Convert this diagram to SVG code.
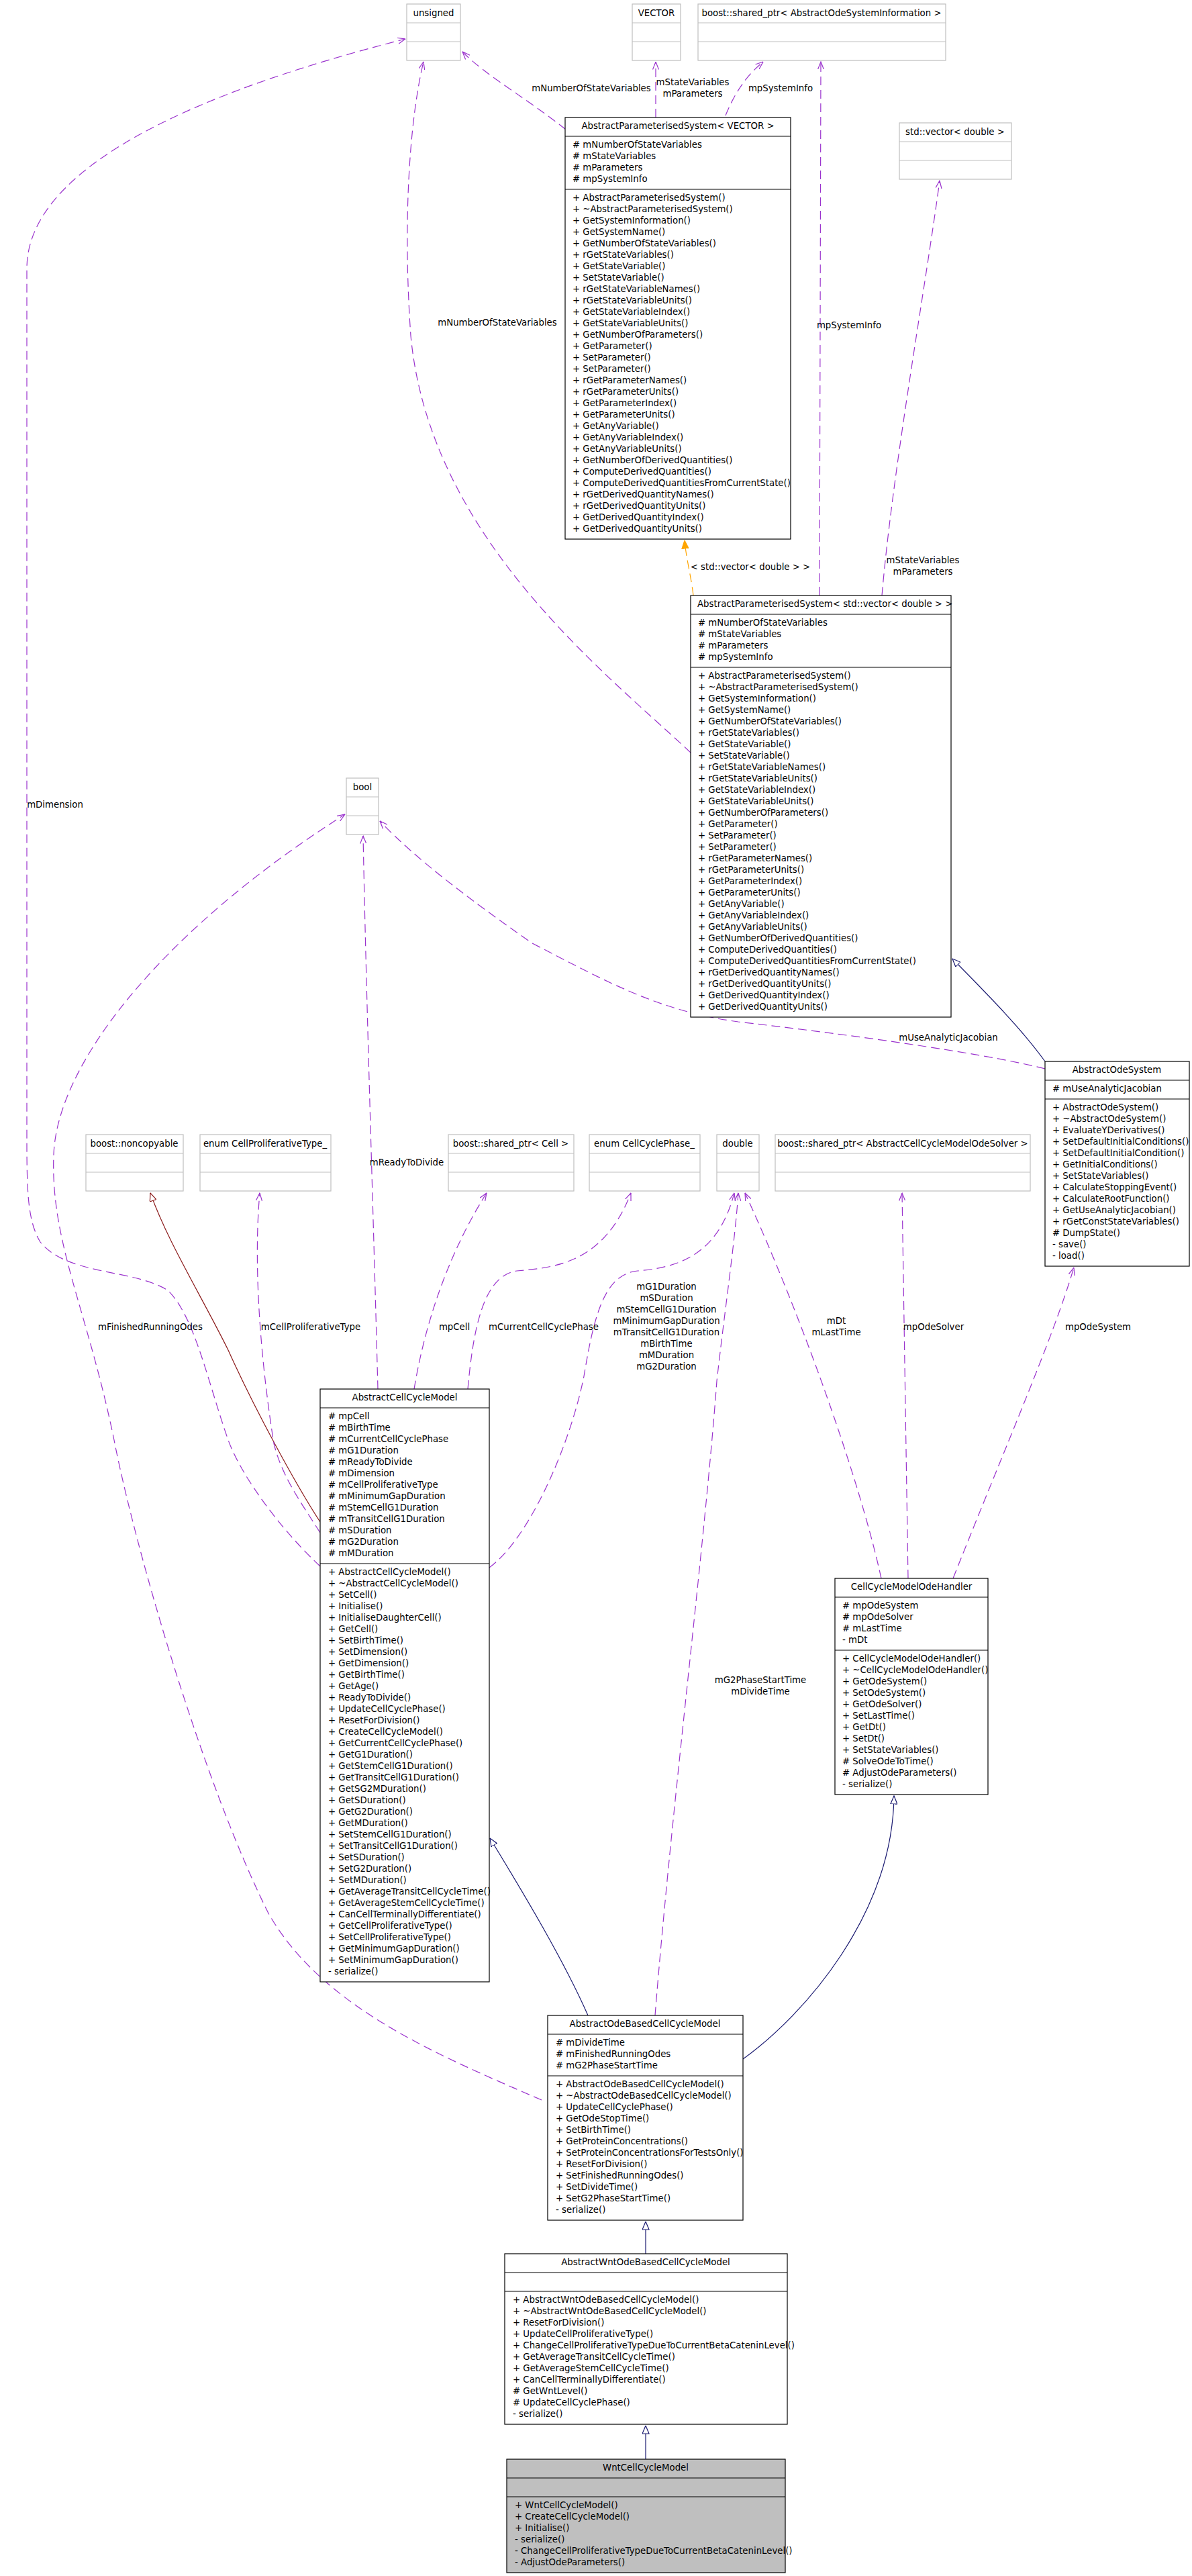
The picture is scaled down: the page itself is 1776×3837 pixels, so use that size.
<svg xmlns="http://www.w3.org/2000/svg" width="1776" height="3837" viewBox="0 0 1776 3837">
<style>
text{font-family:"DejaVu Sans","Liberation Sans",sans-serif;font-size:13.3px;fill:#000}
.t{text-anchor:middle}
.b{fill:#fff;stroke:#000;stroke-width:1.2}
.g{fill:#fff;stroke:#bfbfbf;stroke-width:1.2}
.gr{fill:#bfbfbf;stroke:#000;stroke-width:1.2}
.l{stroke:#000;stroke-width:1.2}
.lg{stroke:#bfbfbf;stroke-width:1.2}
.p{fill:none;stroke:#9a32cd;stroke-width:1.2;stroke-dasharray:13,7;marker-end:url(#ao)}
.u{fill:none;stroke:#191970;stroke-width:1.2;marker-end:url(#hb)}
.r{fill:none;stroke:#8b1a1a;stroke-width:1.2;marker-end:url(#hr)}
.o{fill:none;stroke:#ffa500;stroke-width:1.2;stroke-dasharray:13,7;marker-end:url(#fo)}
</style>
<defs>
<marker id="ao" viewBox="0 0 12 10" refX="11.5" refY="5" markerWidth="12" markerHeight="10" markerUnits="userSpaceOnUse" orient="auto"><path d="M0,0.5 L11.5,5 L0,9.5" fill="none" stroke="#9a32cd" stroke-width="1.2"/></marker>
<marker id="hb" viewBox="0 0 13 11" refX="12.5" refY="5.5" markerWidth="13" markerHeight="11" markerUnits="userSpaceOnUse" orient="auto"><path d="M0.5,0.5 L12.5,5.5 L0.5,10.5 Z" fill="#fff" stroke="#191970" stroke-width="1.2"/></marker>
<marker id="hr" viewBox="0 0 13 11" refX="12.5" refY="5.5" markerWidth="13" markerHeight="11" markerUnits="userSpaceOnUse" orient="auto"><path d="M0.5,0.5 L12.5,5.5 L0.5,10.5 Z" fill="#fff" stroke="#8b1a1a" stroke-width="1.2"/></marker>
<marker id="fo" viewBox="0 0 13 11" refX="12.5" refY="5.5" markerWidth="13" markerHeight="11" markerUnits="userSpaceOnUse" orient="auto"><path d="M0.5,0.5 L12.5,5.5 L0.5,10.5 Z" fill="#ffa500" stroke="#ffa500" stroke-width="1.2"/></marker>
</defs>

<g id="edges">
<path class="p" d="M843,193 C790,150 720,110 689,77"/>
<path class="p" d="M977,175 L977,92"/>
<path class="p" d="M1081,172 C1098,130 1118,108 1137,92"/>
<path class="p" d="M1221,887 L1223,92"/>
<path class="p" d="M1029,1121 C900,1000 640,800 612,500 C600,330 610,180 631,92"/>
<path class="p" d="M1314,887 C1330,700 1380,420 1400,269"/>
<path class="o" d="M1033,887 C1030,860 1022,830 1020,805"/>
<path class="p" d="M1557,1592 C1480,1572 1300,1545 1100,1522 C980,1506 900,1460 793,1405 C700,1340 620,1280 566,1223"/>
<path class="u" d="M1557,1581 C1520,1530 1470,1480 1419,1428"/>
<path class="p" d="M563,2069 C556,1800 546,1500 541,1245"/>
<path class="p" d="M807,3128 C650,3060 480,2990 400,2850 C300,2650 200,2300 170,2145 C130,1950 75,1850 80,1720 C85,1580 250,1380 514,1213"/>
<path class="p" d="M477,2333 C420,2280 360,2200 340,2145 C310,2060 290,1960 250,1922 C200,1890 100,1900 60,1850 C42,1820 40,1780 40,1700 L40,400 C40,220 400,110 604,58"/>
<path class="r" d="M477,2267 C440,2210 380,2100 340,2011 C300,1930 250,1850 224,1777"/>
<path class="p" d="M477,2283 C450,2240 420,2200 408,2150 C392,2050 376,1900 387,1777"/>
<path class="p" d="M617,2069 C630,1990 660,1880 725,1777"/>
<path class="p" d="M697,2069 C705,1980 720,1900 770,1893 C830,1888 900,1880 940,1777"/>
<path class="p" d="M729,2335 C790,2290 850,2150 870,2050 C885,1960 900,1898 950,1893 C1010,1888 1070,1870 1094,1777"/>
<path class="p" d="M976,3002 C1000,2700 1050,2300 1068,2057 C1080,1950 1095,1850 1100,1777"/>
<path class="p" d="M1313,2351 C1280,2200 1190,1950 1110,1777"/>
<path class="p" d="M1353,2351 L1344,1777"/>
<path class="p" d="M1420,2351 C1500,2150 1570,1990 1600,1888"/>
<path class="u" d="M1107,3067 C1200,3000 1330,2850 1332,2675"/>
<path class="u" d="M876,3002 C840,2920 780,2820 730,2738"/>
<path class="u" d="M962,3357 L962,3309"/>
<path class="u" d="M962,3663 L962,3613"/>
</g>

<g id="edge-labels" class="t">
<text x="881" y="136">mNumberOfStateVariables</text>
<text x="1032" y="127">mStateVariables</text>
<text x="1032" y="144">mParameters</text>
<text x="1163" y="136">mpSystemInfo</text>
<text x="741" y="485">mNumberOfStateVariables</text>
<text x="1265" y="489">mpSystemInfo</text>
<text x="1118" y="849">&lt; std::vector&lt; double &gt; &gt;</text>
<text x="1375" y="839">mStateVariables</text>
<text x="1375" y="856">mParameters</text>
<text x="82" y="1203">mDimension</text>
<text x="1413" y="1550">mUseAnalyticJacobian</text>
<text x="606" y="1736">mReadyToDivide</text>
<text x="224" y="1981">mFinishedRunningOdes</text>
<text x="463" y="1981">mCellProliferativeType</text>
<text x="677" y="1981">mpCell</text>
<text x="810" y="1981">mCurrentCellCyclePhase</text>
<text x="993" y="1921">mG1Duration</text>
<text x="993" y="1938">mSDuration</text>
<text x="993" y="1955">mStemCellG1Duration</text>
<text x="993" y="1972">mMinimumGapDuration</text>
<text x="993" y="1989">mTransitCellG1Duration</text>
<text x="993" y="2006">mBirthTime</text>
<text x="993" y="2023">mMDuration</text>
<text x="993" y="2040">mG2Duration</text>
<text x="1246" y="1972">mDt</text>
<text x="1246" y="1989">mLastTime</text>
<text x="1391" y="1981">mpOdeSolver</text>
<text x="1636" y="1981">mpOdeSystem</text>
<text x="1133" y="2507">mG2PhaseStartTime</text>
<text x="1133" y="2524">mDivideTime</text>
</g>

<g id="unsigned"><rect class="g" x="606" y="6" width="80" height="84"/><line class="lg" x1="606" y1="34" x2="686" y2="34"/><line class="lg" x1="606" y1="62" x2="686" y2="62"/><text class="t" x="646" y="24">unsigned</text></g>
<g id="VECTOR"><rect class="g" x="942" y="6" width="72" height="84"/><line class="lg" x1="942" y1="34" x2="1014" y2="34"/><line class="lg" x1="942" y1="62" x2="1014" y2="62"/><text class="t" x="978" y="24">VECTOR</text></g>
<g id="sp_AbstractOdeSystemInformation"><rect class="g" x="1040" y="6" width="369" height="84"/><line class="lg" x1="1040" y1="34" x2="1409" y2="34"/><line class="lg" x1="1040" y1="62" x2="1409" y2="62"/><text class="t" x="1224" y="24">boost::shared_ptr&lt; AbstractOdeSystemInformation &gt;</text></g>
<g id="std_vector_double"><rect class="g" x="1340" y="183" width="167" height="84"/><line class="lg" x1="1340" y1="211" x2="1507" y2="211"/><line class="lg" x1="1340" y1="239" x2="1507" y2="239"/><text class="t" x="1423" y="201">std::vector&lt; double &gt;</text></g>

<g id="APS_VECTOR"><rect class="b" x="842" y="175" width="336" height="628"/><line class="l" x1="842" y1="203" x2="1178" y2="203"/><line class="l" x1="842" y1="282" x2="1178" y2="282"/>
<text class="t" x="1010" y="192">AbstractParameterisedSystem&lt; VECTOR &gt;</text>
<text x="853" y="220"><tspan x="853">#  mNumberOfStateVariables</tspan><tspan x="853" dy="17">#  mStateVariables</tspan><tspan x="853" dy="17">#  mParameters</tspan><tspan x="853" dy="17">#  mpSystemInfo</tspan></text>
<text x="853" y="299"><tspan x="853">+ AbstractParameterisedSystem()</tspan><tspan x="853" dy="17">+ ~AbstractParameterisedSystem()</tspan><tspan x="853" dy="17">+ GetSystemInformation()</tspan><tspan x="853" dy="17">+ GetSystemName()</tspan><tspan x="853" dy="17">+ GetNumberOfStateVariables()</tspan><tspan x="853" dy="17">+ rGetStateVariables()</tspan><tspan x="853" dy="17">+ GetStateVariable()</tspan><tspan x="853" dy="17">+ SetStateVariable()</tspan><tspan x="853" dy="17">+ rGetStateVariableNames()</tspan><tspan x="853" dy="17">+ rGetStateVariableUnits()</tspan><tspan x="853" dy="17">+ GetStateVariableIndex()</tspan><tspan x="853" dy="17">+ GetStateVariableUnits()</tspan><tspan x="853" dy="17">+ GetNumberOfParameters()</tspan><tspan x="853" dy="17">+ GetParameter()</tspan><tspan x="853" dy="17">+ SetParameter()</tspan><tspan x="853" dy="17">+ SetParameter()</tspan><tspan x="853" dy="17">+ rGetParameterNames()</tspan><tspan x="853" dy="17">+ rGetParameterUnits()</tspan><tspan x="853" dy="17">+ GetParameterIndex()</tspan><tspan x="853" dy="17">+ GetParameterUnits()</tspan><tspan x="853" dy="17">+ GetAnyVariable()</tspan><tspan x="853" dy="17">+ GetAnyVariableIndex()</tspan><tspan x="853" dy="17">+ GetAnyVariableUnits()</tspan><tspan x="853" dy="17">+ GetNumberOfDerivedQuantities()</tspan><tspan x="853" dy="17">+ ComputeDerivedQuantities()</tspan><tspan x="853" dy="17">+ ComputeDerivedQuantitiesFromCurrentState()</tspan><tspan x="853" dy="17">+ rGetDerivedQuantityNames()</tspan><tspan x="853" dy="17">+ rGetDerivedQuantityUnits()</tspan><tspan x="853" dy="17">+ GetDerivedQuantityIndex()</tspan><tspan x="853" dy="17">+ GetDerivedQuantityUnits()</tspan></text></g>

<g id="APS_std_vector"><rect class="b" x="1029" y="887" width="388" height="628"/><line class="l" x1="1029" y1="915" x2="1417" y2="915"/><line class="l" x1="1029" y1="994" x2="1417" y2="994"/>
<text x="1039" y="904">AbstractParameterisedSystem&lt; std::vector&lt; double &gt; &gt;</text>
<text x="1040" y="932"><tspan x="1040">#  mNumberOfStateVariables</tspan><tspan x="1040" dy="17">#  mStateVariables</tspan><tspan x="1040" dy="17">#  mParameters</tspan><tspan x="1040" dy="17">#  mpSystemInfo</tspan></text>
<text x="1040" y="1011"><tspan x="1040">+ AbstractParameterisedSystem()</tspan><tspan x="1040" dy="17">+ ~AbstractParameterisedSystem()</tspan><tspan x="1040" dy="17">+ GetSystemInformation()</tspan><tspan x="1040" dy="17">+ GetSystemName()</tspan><tspan x="1040" dy="17">+ GetNumberOfStateVariables()</tspan><tspan x="1040" dy="17">+ rGetStateVariables()</tspan><tspan x="1040" dy="17">+ GetStateVariable()</tspan><tspan x="1040" dy="17">+ SetStateVariable()</tspan><tspan x="1040" dy="17">+ rGetStateVariableNames()</tspan><tspan x="1040" dy="17">+ rGetStateVariableUnits()</tspan><tspan x="1040" dy="17">+ GetStateVariableIndex()</tspan><tspan x="1040" dy="17">+ GetStateVariableUnits()</tspan><tspan x="1040" dy="17">+ GetNumberOfParameters()</tspan><tspan x="1040" dy="17">+ GetParameter()</tspan><tspan x="1040" dy="17">+ SetParameter()</tspan><tspan x="1040" dy="17">+ SetParameter()</tspan><tspan x="1040" dy="17">+ rGetParameterNames()</tspan><tspan x="1040" dy="17">+ rGetParameterUnits()</tspan><tspan x="1040" dy="17">+ GetParameterIndex()</tspan><tspan x="1040" dy="17">+ GetParameterUnits()</tspan><tspan x="1040" dy="17">+ GetAnyVariable()</tspan><tspan x="1040" dy="17">+ GetAnyVariableIndex()</tspan><tspan x="1040" dy="17">+ GetAnyVariableUnits()</tspan><tspan x="1040" dy="17">+ GetNumberOfDerivedQuantities()</tspan><tspan x="1040" dy="17">+ ComputeDerivedQuantities()</tspan><tspan x="1040" dy="17">+ ComputeDerivedQuantitiesFromCurrentState()</tspan><tspan x="1040" dy="17">+ rGetDerivedQuantityNames()</tspan><tspan x="1040" dy="17">+ rGetDerivedQuantityUnits()</tspan><tspan x="1040" dy="17">+ GetDerivedQuantityIndex()</tspan><tspan x="1040" dy="17">+ GetDerivedQuantityUnits()</tspan></text></g>

<g id="bool"><rect class="g" x="516" y="1159" width="48" height="84"/><line class="lg" x1="516" y1="1187" x2="564" y2="1187"/><line class="lg" x1="516" y1="1215" x2="564" y2="1215"/><text class="t" x="540" y="1177">bool</text></g>

<g id="AbstractOdeSystem"><rect class="b" x="1557" y="1581" width="215" height="305"/><line class="l" x1="1557" y1="1609" x2="1772" y2="1609"/><line class="l" x1="1557" y1="1637" x2="1772" y2="1637"/>
<text class="t" x="1664" y="1598">AbstractOdeSystem</text>
<text x="1568" y="1626"># mUseAnalyticJacobian</text>
<text x="1568" y="1654"><tspan x="1568">+ AbstractOdeSystem()</tspan><tspan x="1568" dy="17">+ ~AbstractOdeSystem()</tspan><tspan x="1568" dy="17">+ EvaluateYDerivatives()</tspan><tspan x="1568" dy="17">+ SetDefaultInitialConditions()</tspan><tspan x="1568" dy="17">+ SetDefaultInitialCondition()</tspan><tspan x="1568" dy="17">+ GetInitialConditions()</tspan><tspan x="1568" dy="17">+ SetStateVariables()</tspan><tspan x="1568" dy="17">+ CalculateStoppingEvent()</tspan><tspan x="1568" dy="17">+ CalculateRootFunction()</tspan><tspan x="1568" dy="17">+ GetUseAnalyticJacobian()</tspan><tspan x="1568" dy="17">+ rGetConstStateVariables()</tspan><tspan x="1568" dy="17"># DumpState()</tspan><tspan x="1568" dy="17">- save()</tspan><tspan x="1568" dy="17">- load()</tspan></text></g>

<g id="noncopyable"><rect class="g" x="128" y="1690" width="145" height="84"/><line class="lg" x1="128" y1="1718" x2="273" y2="1718"/><line class="lg" x1="128" y1="1746" x2="273" y2="1746"/><text class="t" x="200" y="1708">boost::noncopyable</text></g>
<g id="CellProliferativeType"><rect class="g" x="298" y="1690" width="195" height="84"/><line class="lg" x1="298" y1="1718" x2="493" y2="1718"/><line class="lg" x1="298" y1="1746" x2="493" y2="1746"/><text class="t" x="395" y="1708">enum CellProliferativeType_</text></g>
<g id="sp_Cell"><rect class="g" x="668" y="1690" width="187" height="84"/><line class="lg" x1="668" y1="1718" x2="855" y2="1718"/><line class="lg" x1="668" y1="1746" x2="855" y2="1746"/><text class="t" x="761" y="1708">boost::shared_ptr&lt; Cell &gt;</text></g>
<g id="CellCyclePhase"><rect class="g" x="878" y="1690" width="165" height="84"/><line class="lg" x1="878" y1="1718" x2="1043" y2="1718"/><line class="lg" x1="878" y1="1746" x2="1043" y2="1746"/><text class="t" x="960" y="1708">enum CellCyclePhase_</text></g>
<g id="double"><rect class="g" x="1068" y="1690" width="63" height="84"/><line class="lg" x1="1068" y1="1718" x2="1131" y2="1718"/><line class="lg" x1="1068" y1="1746" x2="1131" y2="1746"/><text class="t" x="1099" y="1708">double</text></g>
<g id="sp_Solver"><rect class="g" x="1155" y="1690" width="380" height="84"/><line class="lg" x1="1155" y1="1718" x2="1535" y2="1718"/><line class="lg" x1="1155" y1="1746" x2="1535" y2="1746"/><text class="t" x="1345" y="1708">boost::shared_ptr&lt; AbstractCellCycleModelOdeSolver &gt;</text></g>

<g id="AbstractCellCycleModel"><rect class="b" x="477" y="2069" width="252" height="883"/><line class="l" x1="477" y1="2097" x2="729" y2="2097"/><line class="l" x1="477" y1="2329" x2="729" y2="2329"/>
<text class="t" x="603" y="2086">AbstractCellCycleModel</text>
<text x="489" y="2114"><tspan x="489"># mpCell</tspan><tspan x="489" dy="17"># mBirthTime</tspan><tspan x="489" dy="17"># mCurrentCellCyclePhase</tspan><tspan x="489" dy="17"># mG1Duration</tspan><tspan x="489" dy="17"># mReadyToDivide</tspan><tspan x="489" dy="17"># mDimension</tspan><tspan x="489" dy="17"># mCellProliferativeType</tspan><tspan x="489" dy="17"># mMinimumGapDuration</tspan><tspan x="489" dy="17"># mStemCellG1Duration</tspan><tspan x="489" dy="17"># mTransitCellG1Duration</tspan><tspan x="489" dy="17"># mSDuration</tspan><tspan x="489" dy="17"># mG2Duration</tspan><tspan x="489" dy="17"># mMDuration</tspan></text>
<text x="489" y="2346"><tspan x="489">+ AbstractCellCycleModel()</tspan><tspan x="489" dy="17">+ ~AbstractCellCycleModel()</tspan><tspan x="489" dy="17">+ SetCell()</tspan><tspan x="489" dy="17">+ Initialise()</tspan><tspan x="489" dy="17">+ InitialiseDaughterCell()</tspan><tspan x="489" dy="17">+ GetCell()</tspan><tspan x="489" dy="17">+ SetBirthTime()</tspan><tspan x="489" dy="17">+ SetDimension()</tspan><tspan x="489" dy="17">+ GetDimension()</tspan><tspan x="489" dy="17">+ GetBirthTime()</tspan><tspan x="489" dy="17">+ GetAge()</tspan><tspan x="489" dy="17">+ ReadyToDivide()</tspan><tspan x="489" dy="17">+ UpdateCellCyclePhase()</tspan><tspan x="489" dy="17">+ ResetForDivision()</tspan><tspan x="489" dy="17">+ CreateCellCycleModel()</tspan><tspan x="489" dy="17">+ GetCurrentCellCyclePhase()</tspan><tspan x="489" dy="17">+ GetG1Duration()</tspan><tspan x="489" dy="17">+ GetStemCellG1Duration()</tspan><tspan x="489" dy="17">+ GetTransitCellG1Duration()</tspan><tspan x="489" dy="17">+ GetSG2MDuration()</tspan><tspan x="489" dy="17">+ GetSDuration()</tspan><tspan x="489" dy="17">+ GetG2Duration()</tspan><tspan x="489" dy="17">+ GetMDuration()</tspan><tspan x="489" dy="17">+ SetStemCellG1Duration()</tspan><tspan x="489" dy="17">+ SetTransitCellG1Duration()</tspan><tspan x="489" dy="17">+ SetSDuration()</tspan><tspan x="489" dy="17">+ SetG2Duration()</tspan><tspan x="489" dy="17">+ SetMDuration()</tspan><tspan x="489" dy="17">+ GetAverageTransitCellCycleTime()</tspan><tspan x="489" dy="17">+ GetAverageStemCellCycleTime()</tspan><tspan x="489" dy="17">+ CanCellTerminallyDifferentiate()</tspan><tspan x="489" dy="17">+ GetCellProliferativeType()</tspan><tspan x="489" dy="17">+ SetCellProliferativeType()</tspan><tspan x="489" dy="17">+ GetMinimumGapDuration()</tspan><tspan x="489" dy="17">+ SetMinimumGapDuration()</tspan><tspan x="489" dy="17">- serialize()</tspan></text></g>

<g id="CellCycleModelOdeHandler"><rect class="b" x="1244" y="2351" width="228" height="322"/><line class="l" x1="1244" y1="2379" x2="1472" y2="2379"/><line class="l" x1="1244" y1="2458" x2="1472" y2="2458"/>
<text class="t" x="1358" y="2368">CellCycleModelOdeHandler</text>
<text x="1255" y="2396"><tspan x="1255"># mpOdeSystem</tspan><tspan x="1255" dy="17"># mpOdeSolver</tspan><tspan x="1255" dy="17"># mLastTime</tspan><tspan x="1255" dy="17">- mDt</tspan></text>
<text x="1255" y="2475"><tspan x="1255">+ CellCycleModelOdeHandler()</tspan><tspan x="1255" dy="17">+ ~CellCycleModelOdeHandler()</tspan><tspan x="1255" dy="17">+ GetOdeSystem()</tspan><tspan x="1255" dy="17">+ SetOdeSystem()</tspan><tspan x="1255" dy="17">+ GetOdeSolver()</tspan><tspan x="1255" dy="17">+ SetLastTime()</tspan><tspan x="1255" dy="17">+ GetDt()</tspan><tspan x="1255" dy="17">+ SetDt()</tspan><tspan x="1255" dy="17">+ SetStateVariables()</tspan><tspan x="1255" dy="17"># SolveOdeToTime()</tspan><tspan x="1255" dy="17"># AdjustOdeParameters()</tspan><tspan x="1255" dy="17">- serialize()</tspan></text></g>

<g id="AbstractOdeBasedCellCycleModel"><rect class="b" x="816" y="3002" width="291" height="305"/><line class="l" x1="816" y1="3030" x2="1107" y2="3030"/><line class="l" x1="816" y1="3092" x2="1107" y2="3092"/>
<text class="t" x="961" y="3019">AbstractOdeBasedCellCycleModel</text>
<text x="828" y="3047"><tspan x="828"># mDivideTime</tspan><tspan x="828" dy="17"># mFinishedRunningOdes</tspan><tspan x="828" dy="17"># mG2PhaseStartTime</tspan></text>
<text x="828" y="3109"><tspan x="828">+ AbstractOdeBasedCellCycleModel()</tspan><tspan x="828" dy="17">+ ~AbstractOdeBasedCellCycleModel()</tspan><tspan x="828" dy="17">+ UpdateCellCyclePhase()</tspan><tspan x="828" dy="17">+ GetOdeStopTime()</tspan><tspan x="828" dy="17">+ SetBirthTime()</tspan><tspan x="828" dy="17">+ GetProteinConcentrations()</tspan><tspan x="828" dy="17">+ SetProteinConcentrationsForTestsOnly()</tspan><tspan x="828" dy="17">+ ResetForDivision()</tspan><tspan x="828" dy="17">+ SetFinishedRunningOdes()</tspan><tspan x="828" dy="17">+ SetDivideTime()</tspan><tspan x="828" dy="17">+ SetG2PhaseStartTime()</tspan><tspan x="828" dy="17">- serialize()</tspan></text></g>

<g id="AbstractWntOdeBasedCellCycleModel"><rect class="b" x="752" y="3357" width="421" height="254"/><line class="l" x1="752" y1="3385" x2="1173" y2="3385"/><line class="l" x1="752" y1="3413" x2="1173" y2="3413"/>
<text class="t" x="962" y="3374">AbstractWntOdeBasedCellCycleModel</text>
<text x="764" y="3430"><tspan x="764">+ AbstractWntOdeBasedCellCycleModel()</tspan><tspan x="764" dy="17">+ ~AbstractWntOdeBasedCellCycleModel()</tspan><tspan x="764" dy="17">+ ResetForDivision()</tspan><tspan x="764" dy="17">+ UpdateCellProliferativeType()</tspan><tspan x="764" dy="17">+ ChangeCellProliferativeTypeDueToCurrentBetaCateninLevel()</tspan><tspan x="764" dy="17">+ GetAverageTransitCellCycleTime()</tspan><tspan x="764" dy="17">+ GetAverageStemCellCycleTime()</tspan><tspan x="764" dy="17">+ CanCellTerminallyDifferentiate()</tspan><tspan x="764" dy="17"># GetWntLevel()</tspan><tspan x="764" dy="17"># UpdateCellCyclePhase()</tspan><tspan x="764" dy="17">- serialize()</tspan></text></g>

<g id="WntCellCycleModel"><rect class="gr" x="755" y="3663" width="415" height="169"/><line class="l" x1="755" y1="3691" x2="1170" y2="3691"/><line class="l" x1="755" y1="3719" x2="1170" y2="3719"/>
<text class="t" x="962" y="3680">WntCellCycleModel</text>
<text x="767" y="3736"><tspan x="767">+ WntCellCycleModel()</tspan><tspan x="767" dy="17">+ CreateCellCycleModel()</tspan><tspan x="767" dy="17">+ Initialise()</tspan><tspan x="767" dy="17">- serialize()</tspan><tspan x="767" dy="17">- ChangeCellProliferativeTypeDueToCurrentBetaCateninLevel()</tspan><tspan x="767" dy="17">- AdjustOdeParameters()</tspan></text></g>
</svg>
